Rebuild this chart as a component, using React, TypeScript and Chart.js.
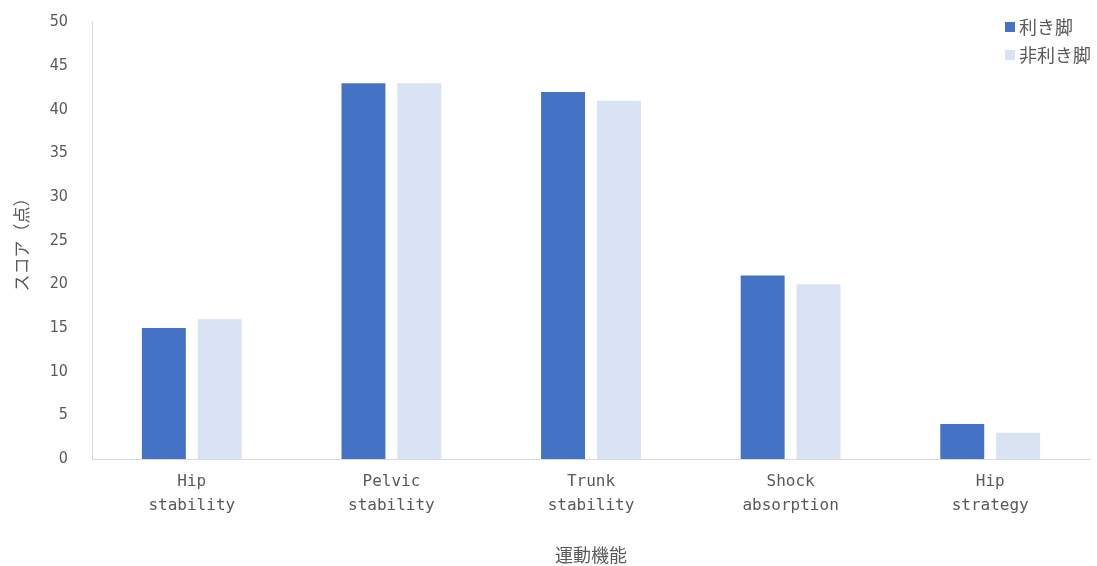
import React, { useEffect, useRef } from "react";
import { Chart, registerables } from "chart.js";

Chart.register(...registerables);

const categories: string[][] = [
  ["Hip", "stability"],
  ["Pelvic", "stability"],
  ["Trunk", "stability"],
  ["Shock", "absorption"],
  ["Hip", "strategy"],
];
const dominantLeg: number[] = [15, 43, 42, 21, 4];
const nonDominantLeg: number[] = [16, 43, 41, 20, 3];
const seriesNames: string[] = ["利き脚", "非利き脚"];
const seriesColors: string[] = ["#4472C4", "#DAE3F3"];

const JP_FONT = "'Noto Sans CJK JP', 'Noto Sans', sans-serif";
const TEXT_COLOR = "#595959";

// Vertical legend drawn in the top-right corner
const cornerLegend = {
  id: "cornerLegend",
  afterDraw(chart: Chart) {
    const ctx = chart.ctx;
    ctx.save();
    ctx.font = `18px ${JP_FONT}`;
    ctx.textBaseline = "middle";
    ctx.textAlign = "left";
    chart.data.datasets.forEach((ds: any, i: number) => {
      const y = 27 + i * 28;
      ctx.fillStyle = ds.backgroundColor as string;
      ctx.fillRect(1005, y - 5, 10, 10);
      ctx.fillStyle = TEXT_COLOR;
      ctx.fillText(ds.label as string, 1019, y);
    });
    ctx.restore();
  },
};

export default function App() {
  const canvasRef = useRef<HTMLCanvasElement | null>(null);

  useEffect(() => {
    if (!canvasRef.current) return;
    const chart = new Chart(canvasRef.current, {
      type: "bar",
      data: {
        labels: categories,
        datasets: [
          {
            label: seriesNames[0],
            data: dominantLeg,
            backgroundColor: seriesColors[0],
            categoryPercentage: 0.56,
            barPercentage: 0.786,
          },
          {
            label: seriesNames[1],
            data: nonDominantLeg,
            backgroundColor: seriesColors[1],
            categoryPercentage: 0.56,
            barPercentage: 0.786,
          },
        ],
      },
      options: {
        animation: false,
        responsive: false,
        maintainAspectRatio: false,
        layout: { padding: { top: 22, right: 7, left: 0, bottom: 0 } },
        plugins: {
          legend: { display: false },
          tooltip: { enabled: false },
        },
        scales: {
          x: {
            grid: { display: false, drawTicks: false },
            border: { display: true, color: "#D9D9D9", width: 1 },
            ticks: {
              color: TEXT_COLOR,
              font: { family: "'DejaVu Sans Mono', 'Liberation Mono', monospace", size: 16, lineHeight: 1.55 },
              padding: 10,
              maxRotation: 0,
              autoSkip: false,
            },
            title: {
              display: true,
              text: "運動機能",
              color: TEXT_COLOR,
              font: { family: JP_FONT, size: 18 },
              padding: { top: 0, bottom: 0 },
            },
            afterFit(scale: any) {
              scale.height = 107;
              scale.paddingLeft = 0;
              scale.paddingRight = 0;
            },
          },
          y: {
            min: 0,
            max: 50,
            grid: { display: false, drawTicks: false },
            border: { display: true, color: "#D9D9D9", width: 1 },
            ticks: {
              stepSize: 5,
              color: TEXT_COLOR,
              font: { family: "'DejaVu Sans Condensed', 'Liberation Sans Narrow', sans-serif", size: 16 },
              padding: 24,
            },
            title: {
              display: true,
              text: "スコア（点）",
              color: TEXT_COLOR,
              font: { family: JP_FONT, size: 17 },
              padding: { top: 11, bottom: 0 },
            },
            afterFit(scale: any) {
              scale.width = 92;
              scale.paddingTop = 0;
              scale.paddingBottom = 0;
            },
          },
        },
      },
      plugins: [cornerLegend],
    });
    return () => chart.destroy();
  }, []);

  return (
    <div style={{ position: "fixed", left: 0, top: 0, width: 1097, height: 566, background: "#fff" }}>
      <canvas ref={canvasRef} width={1097} height={566} />
    </div>
  );
}
